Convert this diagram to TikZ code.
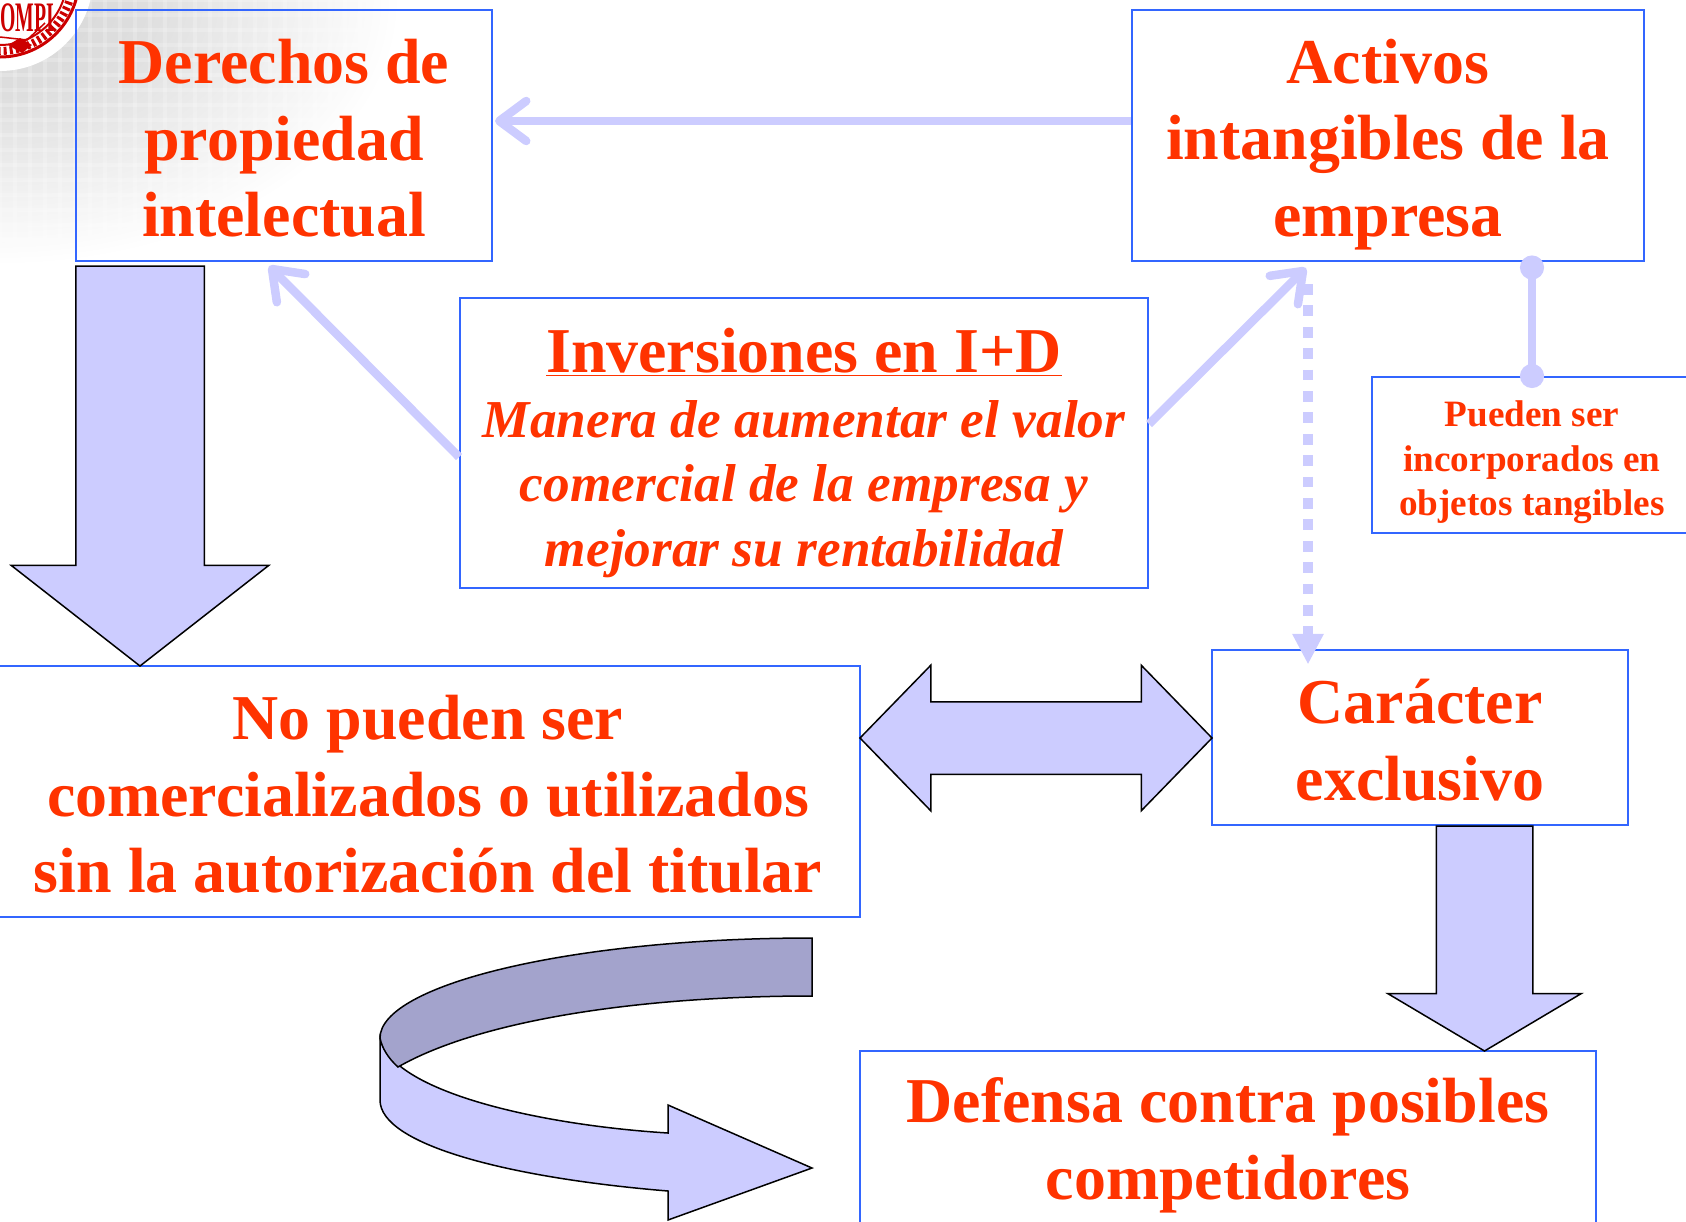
\documentclass[tikz,border=0pt]{standalone}
\usepackage{fontspec}
\setmainfont{Liberation Serif}
\usepackage{tikz}
\usetikzlibrary{arrows.meta,positioning,shapes.arrows}
\definecolor{rojo}{HTML}{FF3300}
\definecolor{azul}{HTML}{3366FF}
\definecolor{lila}{HTML}{CCCCFF}
\definecolor{lilaosc}{HTML}{A3A3CC}
\definecolor{sello}{HTML}{CC0000}
\pgfdeclareradialshading{esquina}{\pgfpoint{0bp}{0bp}}{color(0bp)=(black!16); color(9bp)=(black!13); color(25bp)=(white); color(50bp)=(white)}
\newcommand{\arriba}{\rule{0pt}{62pt}}
\newcommand{\abajo}{\rule[-13pt]{0pt}{13pt}}
\tikzstyle{caja} = [rectangle, draw=azul, line width=2, text=rojo, align=center, inner sep=0, font=\bfseries\fontsize{63.9}{76.5}\selectfont]
\tikzstyle{enlace} = [draw=lila, line width=8.5]
\tikzstyle{bloque} = [draw=black, line width=1.5, fill=lila, inner sep=0, outer sep=0]
\tikzstyle{punta} = [-{Straight Barb[length=27,width=40,line width=8.5,round]}]

\begin{document}
\begin{tikzpicture}[x=1pt,y=-1pt]
		\clip (0,0) rectangle (1686,1221);
		% fondo
		\shade[shading=esquina] (0,0) ellipse (400 and 265);
		\begin{scope}[white,opacity=.2,line width=4]
			\clip (0,0) ellipse (400 and 265);
			\foreach \i in {0,...,24} {
				\draw (\i*15,0) -- (\i*15,265);
				\draw (0,\i*15) -- (400,\i*15);
			}
		\end{scope}
		\fill[white] (0,-22) circle (93);
		\draw[sello,line width=3] (0,-22) circle (79);
		\draw[sello,line width=8,dash pattern=on 3 off 3] (0,-22) circle (73);
		\draw[sello,line width=2] (0,-22) circle (67);
		\draw[sello,line width=1.5] (0,37) -- (27,40) -- (45,23);
		\fill[sello] (8,45) -- (20,38) -- (32,45) -- (22,53) -- cycle;
		\node[sello,inner sep=0,anchor=east,font=\bfseries\fontsize{42}{42}\selectfont](ompi) at (54,18) {\scalebox{.47}[1]{OMPI}};
		
		\node[caja,minimum width=416,minimum height=251](derechos) at (284,135.5) {\arriba Derechos de\\propiedad\\\abajo intelectual};
		\node[caja,minimum width=512,minimum height=251](activos) at (1388,135.5) {\arriba Activos\\intangibles de la\\\abajo empresa};
		\node[caja,minimum width=688,minimum height=290,font=\bfseries\fontsize{53.3}{64.5}\selectfont](inversiones) at (804,443) {\rule{0pt}{70pt}\fontsize{63.9}{64.5}\selectfont\underline{Inversiones en I+D}\\\itshape Manera de aumentar el valor\\\itshape comercial de la empresa y\\\itshape\rule[-17pt]{0pt}{17pt}mejorar su rentabilidad};
		\node[caja,minimum width=320,minimum height=156,font=\bfseries\fontsize{37.2}{44.7}\selectfont](incorporados) at (1532,455) {\rule{0pt}{42pt}Pueden ser\\incorporados en\\\rule[-9.6pt]{0pt}{9.6pt}objetos tangibles};
		\node[caja,minimum width=864,minimum height=251](comercial) at (428,791.5) {\arriba No pueden ser\\comercializados o utilizados\\\abajo sin la autorización del titular};
		\node[caja,minimum width=416,minimum height=175.5](exclusivo) at (1420,737.5) {\arriba Carácter\\\abajo exclusivo};
		\node[caja,minimum width=736,minimum height=180](defensa) at (1228,1141) {\rule{0pt}{54.6pt}Defensa contra posibles\\\rule[-15pt]{0pt}{15pt}competidores};
		
		\draw[enlace,punta] ([yshift=-112]activos.north west) -- ([xshift=2,yshift=-112]derechos.north east);
		\draw[enlace,punta] ([yshift=-160]inversiones.north west) -- ([xshift=-15,yshift=-4]derechos.south);
		\draw[enlace,punta] ([yshift=-127]inversiones.north east) -- ([xshift=-82,yshift=-6]activos.south);
		\draw[draw=lila,line width=10,dash pattern=on 10.7 off 10.7,-{Triangle[length=30,width=32,line width=0]}] ([xshift=-80,yshift=-22]activos.south) -- ([xshift=-112,yshift=-15]exclusivo.north);
		\draw[enlace,{Circle[length=24,width=24]}-{Circle[length=24,width=24]}] ([xshift=144,yshift=6.5]activos.south) -- ([yshift=-12]incorporados.north);
		
		\node[bloque,single arrow,rotate=-90,anchor=tip,minimum height=400,minimum width=256,single arrow head extend=64.5,single arrow tip angle=104,inner sep=63.5](flechaderechos) at (140,666) {};
		\node[bloque,double arrow,minimum height=352,minimum width=144,double arrow head extend=36.5,double arrow tip angle=91.6,inner sep=35.5](flechadoble) at (1036,738) {};
		\node[bloque,single arrow,rotate=-90,anchor=tip,minimum height=225,minimum width=192,single arrow head extend=48.5,single arrow tip angle=118.6,inner sep=47.5](flechaexclusivo) at (1484.5,1051) {};
		
		% flecha curva
		\draw[line width=1.5,fill=lila] (380,1038) .. controls (392,1092) and (540,1125) .. (668,1133) -- (668,1105) -- (812,1168) -- (668,1220) -- (668,1191) .. controls (510,1178) and (380,1145) .. (380,1100) -- cycle;
		\draw[line width=1.5,fill=lilaosc] (812,938) .. controls (570,938) and (380,985) .. (380,1038) .. controls (382,1048) and (388,1058) .. (398,1067) .. controls (480,1020) and (640,996) .. (812,996) -- cycle;
	\end{tikzpicture}
\end{document}
